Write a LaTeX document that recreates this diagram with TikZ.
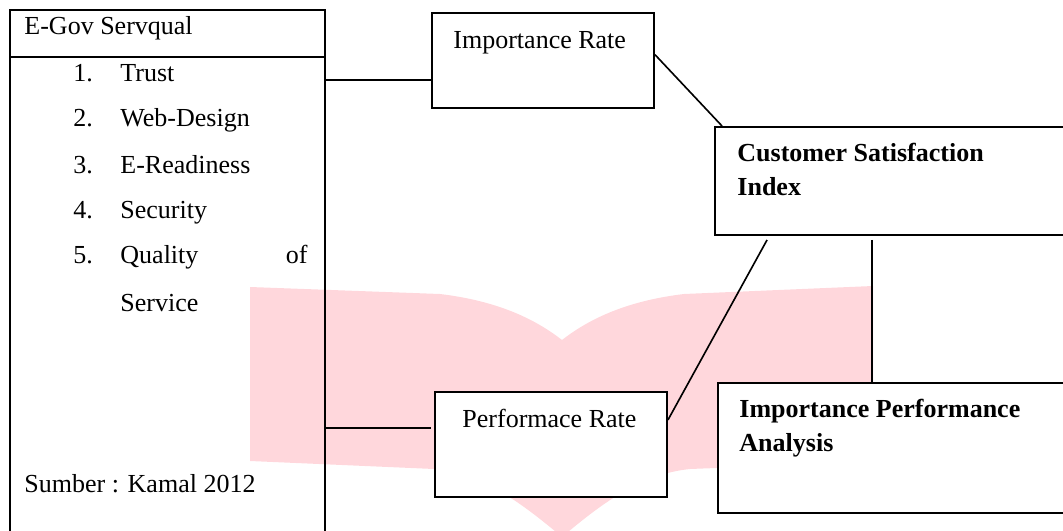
\documentclass[tikz,border=0pt]{standalone}
\usepackage{fontspec}
\setmainfont{Liberation Serif}
\usetikzlibrary{calc,fit}
\definecolor{wmpink}{RGB}{255,215,220}
\tikzset{
  box/.style={draw, line width=0.9pt, inner sep=0pt, fill=white},
  openbox/.style={draw, line width=0.9pt, inner sep=0pt},
  link/.style={line width=0.75pt},
  txt/.style={inner sep=0pt, anchor=base west, font=\fontsize{12}{14}\selectfont},
  btxt/.style={txt, font=\fontsize{12}{14}\selectfont\bfseries},
}
\begin{document}
\begin{tikzpicture}[x=0.4615pt,y=-0.4615pt]
\useasboundingbox (0,0) rectangle (1063,531);
\clip (0,0) rectangle (1063,531);

% pale book-shaped emblem in the background
\fill[wmpink] (250,287) -- (440,294)
  .. controls (490,300) and (530,315) .. (562,340)
  .. controls (594,315) and (634,300) .. (684,294)
  -- (873,286) -- (873,462) -- (690,469)
  .. controls (640,474) and (600,505) .. (562,537)
  .. controls (524,505) and (484,474) .. (434,469)
  -- (250,461) -- cycle;

% box corners
\coordinate (lbA) at (10,10);   \coordinate (lbB) at (325,545);
\coordinate (impA) at (432,13); \coordinate (impB) at (654,108);
\coordinate (csiA) at (715,127); \coordinate (csiB) at (1075,235);
\coordinate (perfA) at (435,392); \coordinate (perfB) at (667,497);
\coordinate (ipaA) at (718,383); \coordinate (ipaB) at (1075,513);

% boxes
\node[openbox, fit=(lbA)(lbB)] (lb) {};
\node[box, fit=(impA)(impB)] (imp) {};
\node[box, fit=(csiA)(csiB)] (csi) {};
\node[box, fit=(perfA)(perfB)] (perf) {};
\node[box, fit=(ipaA)(ipaB)] (ipa) {};

% header divider of the dimension list
\coordinate (divlvl) at (0,57);
\draw[line width=0.9pt] (lb.west |- divlvl) -- (lb.east |- divlvl);

% dimension list
\node[txt] (hdr) at (24,35) {E-Gov Servqual};
\node[txt] (n1) at (73,82) {1.};  \node[txt] (t1) at (120,82) {Trust};
\node[txt] (n2) at (73,127) {2.}; \node[txt] (t2) at (120,127) {Web-Design};
\node[txt] (n3) at (73,173) {3.}; \node[txt] (t3) at (120,173) {E-Readiness};
\node[txt] (n4) at (73,218) {4.}; \node[txt] (t4) at (120,218) {Security};
\node[txt] (n5) at (73,263) {5.}; \node[txt] (t5) at (120,263) {Quality};
\node[txt, anchor=base east] (t5b) at (308,263) {of};
\node[txt] (t5c) at (120,311) {Service};
\node[txt] (src) at (24,492) {Sumber : Kamal 2012};

% box labels
\node[txt] (impL) at (453,49) {Importance Rate};
\node[txt] (perfL) at (462,427) {Performace Rate};
\node[btxt] (csiL1) at (737,162) {Customer Satisfaction};
\node[btxt] (csiL2) at (737,195) {Index};
\node[btxt] (ipaL1) at (739,417) {Importance Performance};
\node[btxt] (ipaL2) at (739,451) {Analysis};

% connectors
\coordinate (lvlT) at (0,80);
\coordinate (lvlP) at (0,428);
\coordinate (csiFoot) at ($(csi.south west)+(158,4)$);
\draw[link] (lb.east |- lvlT) -- (imp.west |- lvlT);
\draw[link] ($(imp.north east)!0.44!(imp.south east)$) -- ($(csi.north west)+(8,0)$);
\draw[link] ($(perf.north east)!0.27!(perf.south east)$) -- ($(csi.south west)+(53,4)$);
\draw[link] (csiFoot) -- (csiFoot |- ipa.north);
\draw[link] (lb.east |- lvlP) -- ($(perf.west |- lvlP)+(-3,0)$);
\end{tikzpicture}
\end{document}
